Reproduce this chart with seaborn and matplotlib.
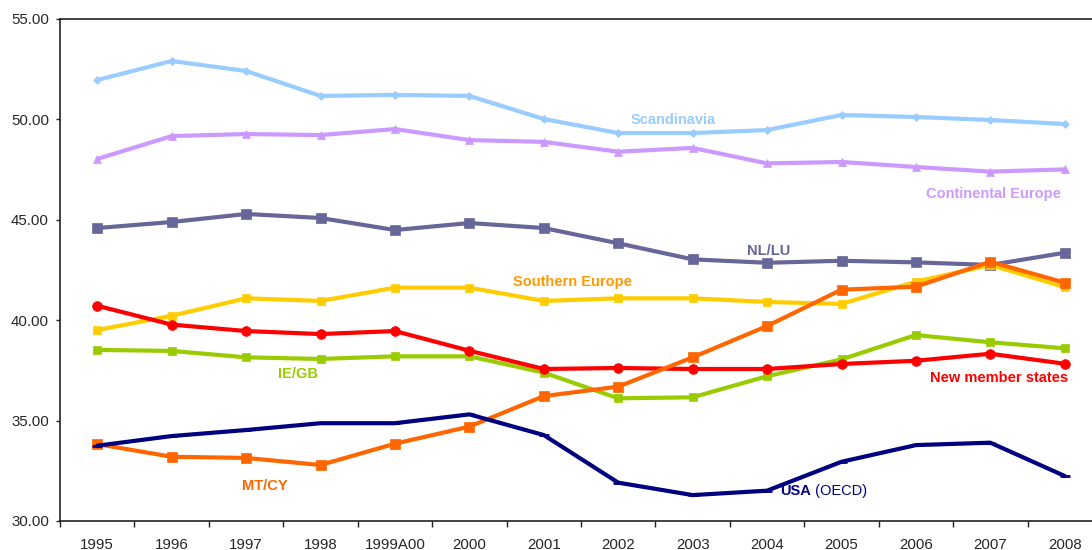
import matplotlib
matplotlib.use("Agg")
import matplotlib.pyplot as plt
import seaborn as sns
import pandas as pd
import numpy as np

years = ["1995", "1996", "1997", "1998", "1999A00", "2000", "2001", "2002",
         "2003", "2004", "2005", "2006", "2007", "2008"]

scandinavia = [51.96, 52.91, 52.41, 51.17, 51.22, 51.17, 50.02, 49.32, 49.32, 49.47, 50.22, 50.12, 49.97, 49.77]
continental = [48.03, 49.17, 49.27, 49.22, 49.52, 48.97, 48.88, 48.39, 48.58, 47.81, 47.88, 47.63, 47.40, 47.51]
nl_lu = [44.59, 44.89, 45.29, 45.09, 44.49, 44.84, 44.59, 43.83, 43.03, 42.86, 42.96, 42.88, 42.75, 43.36]
southern = [39.51, 40.22, 41.09, 40.96, 41.62, 41.62, 40.96, 41.09, 41.09, 40.91, 40.81, 41.92, 42.75, 41.65]
ie_gb = [38.52, 38.47, 38.15, 38.07, 38.20, 38.20, 37.39, 36.11, 36.16, 37.21, 38.05, 39.26, 38.90, 38.60]
new_members = [40.72, 39.78, 39.46, 39.31, 39.46, 38.48, 37.57, 37.62, 37.57, 37.57, 37.82, 37.98, 38.33, 37.83]
mt_cy = [33.83, 33.20, 33.14, 32.79, 33.85, 34.70, 36.22, 36.69, 38.15, 39.71, 41.52, 41.67, 42.91, 41.87]
usa = [33.75, 34.23, 34.53, 34.87, 34.87, 35.31, 34.28, 31.91, 31.29, 31.51, 32.95, 33.78, 33.90, 32.24]

series_names = ["Scandinavia", "Continental Europe", "NL/LU", "Southern Europe",
                "IE/GB", "New member states", "MT/CY", "USA"]
series_values = [scandinavia, continental, nl_lu, southern, ie_gb, new_members, mt_cy, usa]

styles = {
    "Scandinavia": dict(color="#99CCFF", marker="D", ms=4),
    "Continental Europe": dict(color="#CC99FF", marker="^", ms=6),
    "NL/LU": dict(color="#666699", marker="s", ms=6.5),
    "Southern Europe": dict(color="#FFCC00", marker="s", ms=5.5),
    "IE/GB": dict(color="#99CC00", marker="s", ms=5.5),
    "New member states": dict(color="#FF0000", marker="o", ms=7),
    "MT/CY": dict(color="#FF6600", marker="s", ms=7),
    "USA": dict(color="#000080", marker="_", ms=7),
}

rows = []
for name, vals in zip(series_names, series_values):
    for i, v in enumerate(vals):
        rows.append({"series": name, "idx": i, "value": v})
df = pd.DataFrame(rows)

sns.set_style("white")
plt.rcParams["font.family"] = ["Liberation Sans", "DejaVu Sans"]

fig = plt.figure(figsize=(10.92, 5.5), dpi=100)
ax = fig.add_axes([60 / 1092, 29 / 550, (1102 - 60) / 1092, (521 - 19) / 550])

for name in series_names:
    st = styles[name]
    sub = df[df["series"] == name]
    sns.lineplot(data=sub, x="idx", y="value", ax=ax, color=st["color"],
                 linewidth=3, marker=st["marker"], markersize=st["ms"],
                 markeredgecolor=st["color"], markeredgewidth=2 if st["marker"] == "_" else 0.5,
                 legend=False)

ax.set_xlim(-0.5, 13.5)
ax.set_ylim(30, 55)
ax.set_xlabel("")
ax.set_ylabel("")

ax.set_yticks(np.arange(30, 55.01, 5))
ax.set_yticklabels([f"{v:.2f}" for v in np.arange(30, 55.01, 5)], fontsize=10.8)
ax.set_xticks(range(len(years)))
ax.set_xticklabels(years, fontsize=10.8)
ax.set_xticks(np.arange(-0.5, 13.6, 1), minor=True)
ax.tick_params(axis="x", which="major", bottom=True, length=0, pad=12)
ax.tick_params(axis="x", which="minor", bottom=True, length=4, width=1, color="#222222", direction="out")
ax.tick_params(axis="y", which="major", left=True, length=3, width=1, color="#222222", direction="out", pad=5)
ax.grid(False)

for s in ["left", "bottom", "top"]:
    ax.spines[s].set_visible(True)
    ax.spines[s].set_color("#222222")
    ax.spines[s].set_linewidth(1.2)
ax.spines["right"].set_visible(False)

lab = dict(fontsize=10.5, fontweight="bold", ha="center", va="center")
ax.text(7.74, 49.97, "Scandinavia", color="#99CCFF", **lab)
ax.text(12.04, 46.28, "Continental Europe", color="#CC99FF", **lab)
ax.text(9.02, 43.45, "NL/LU", color="#666699", **lab)
ax.text(6.38, 41.89, "Southern Europe", color="#FF9900", **lab)
ax.text(2.70, 37.32, "IE/GB", color="#99CC00", **lab)
ax.text(12.12, 37.14, "New member states", color="#FF0000", **lab)
ax.text(2.25, 31.74, "MT/CY", color="#FF6600", **lab)
t = ax.text(9.18, 31.49, "USA", color="#000080", fontsize=10.5, fontweight="bold",
            ha="left", va="center")
ax.annotate(" (OECD)", xy=(1, 0.5), xycoords=t, ha="left", va="center",
            color="#000080", fontsize=10.5)

fig.savefig("out.png", dpi=100)
